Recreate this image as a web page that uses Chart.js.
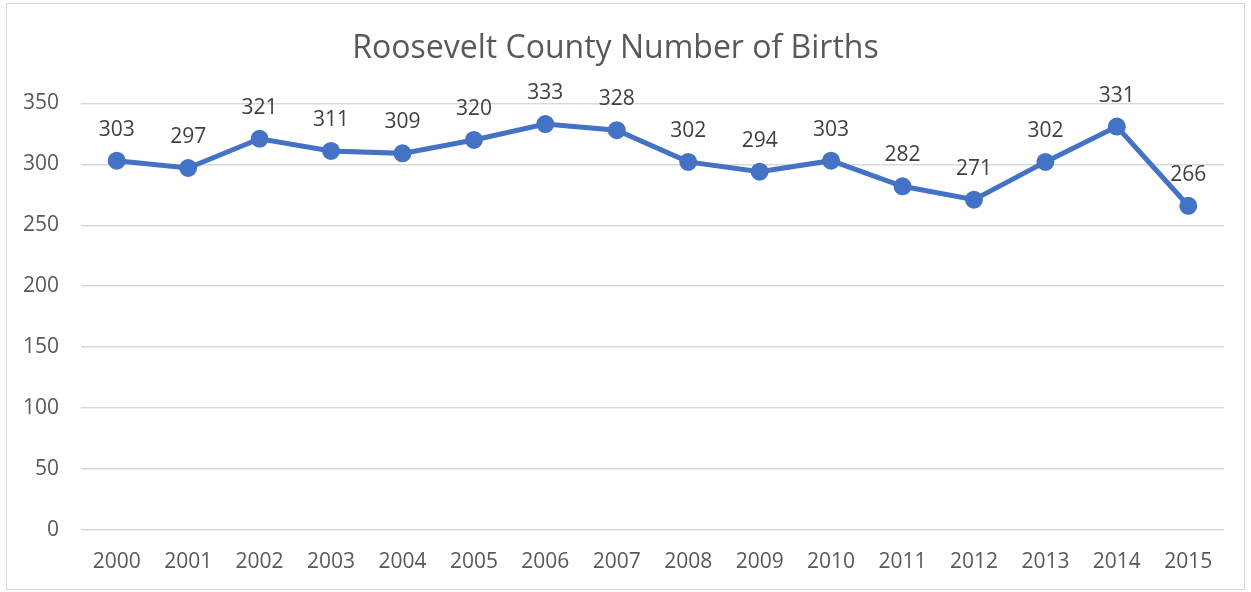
<!DOCTYPE html>
<html>
<head>
<meta charset="utf-8">
<script src="https://cdn.jsdelivr.net/npm/chart.js@4/dist/chart.umd.min.js"></script>
<style>
  html, body { margin: 0; padding: 0; background: #fff; }
  #wrap {
    position: absolute; left: 6px; top: 3px;
    width: 1237px; height: 585px;
    border: 1px solid #d9d9d9;
  }
</style>
</head>
<body>
<div id="wrap"><canvas id="chart"></canvas></div>
<script>
// --- Data ---
const YEARS = ['2000','2001','2002','2003','2004','2005','2006','2007','2008','2009','2010','2011','2012','2013','2014','2015'];
const BIRTHS = [303, 297, 321, 311, 309, 320, 333, 328, 302, 294, 303, 282, 271, 302, 331, 266];
const Y_MIN = 0, Y_MAX = 350, Y_STEP = 50;

const FONT = '"Open Sans", sans-serif';

// draws the value above each point (no datalabels plugin offline)
const valueLabels = {
  id: 'valueLabels',
  afterDatasetsDraw(chart){
    const ctx = chart.ctx;
    const meta = chart.getDatasetMeta(0);
    ctx.save();
    ctx.font = '21px ' + FONT;
    ctx.fillStyle = '#404040';
    ctx.textAlign = 'center';
    ctx.textBaseline = 'middle';
    meta.data.forEach((pt, i) => {
      ctx.fillText(String(BIRTHS[i]), pt.x, pt.y - 31);
    });
    ctx.restore();
  }
};

new Chart(document.getElementById('chart'), {
  type: 'line',
  data: {
    labels: YEARS,
    datasets: [{
      data: BIRTHS,
      borderColor: '#4472C4',
      backgroundColor: '#4472C4',
      borderWidth: 5,
      pointRadius: 6.5,
      pointHoverRadius: 6.5,
      tension: 0
    }]
  },
  options: {
    responsive: true,
    maintainAspectRatio: false,
    animation: false,
    layout: { padding: { left: 0, right: 20, top: 0, bottom: 0 } },
    plugins: {
      legend: { display: false },
      tooltip: { enabled: false },
      title: {
        display: true,
        text: 'Roosevelt County Number of Births',
        color: '#595959',
        font: { family: FONT, size: 32, weight: 'normal' },
        padding: { top: 26, bottom: 35 }
      }
    },
    scales: {
      x: {
        offset: true,
        grid: { display: false, drawTicks: false },
        border: { display: false },
        ticks: { color: '#595959', font: { family: FONT, size: 21 }, padding: 19, maxRotation: 0 },
        afterFit(scale){ scale.height = 59; }
      },
      y: {
        min: Y_MIN, max: Y_MAX,
        grid: { color: '#d9d9d9', lineWidth: 1.5, drawTicks: false },
        border: { display: false },
        ticks: { stepSize: Y_STEP, color: '#595959', font: { family: FONT, size: 21 }, padding: 22 },
        afterFit(scale){ scale.width = 74; }
      }
    }
  },
  plugins: [valueLabels]
});
</script>
</body>
</html>
